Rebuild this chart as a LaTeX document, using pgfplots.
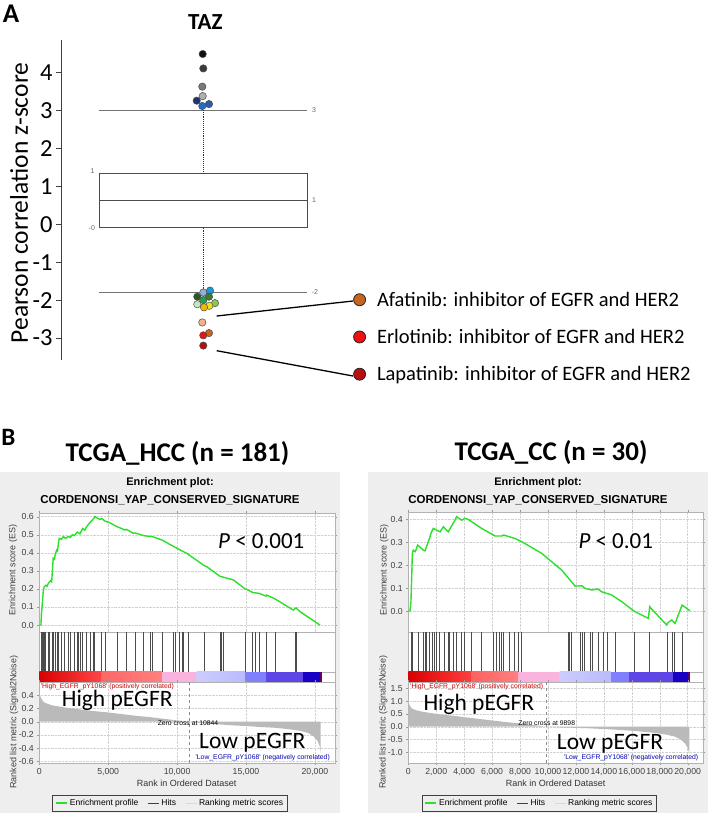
\documentclass[border=0pt]{standalone}
\usepackage{pgfplots}
\pgfplotsset{compat=1.18}
\usepackage{fontspec}
\setmainfont{Carlito}
\newfontfamily\arial{Liberation Sans}
\newcommand\fs[1]{\fontsize{#1}{#1}\selectfont}

\definecolor{panelgray}{HTML}{EEEEEE}
\definecolor{esgreen}{HTML}{2BE02B}
\definecolor{c01}{HTML}{111111}
\definecolor{c02}{HTML}{3A3A3A}
\definecolor{c03}{HTML}{7A7A7A}
\definecolor{c04}{HTML}{B0B0B0}
\definecolor{c05}{HTML}{1E3370}
\definecolor{c06}{HTML}{2F5AA6}
\definecolor{c07}{HTML}{1F6FC8}
\definecolor{c08}{HTML}{8FB0E0}
\definecolor{c09}{HTML}{1A9AD8}
\definecolor{c10}{HTML}{2D5A1E}
\definecolor{c11}{HTML}{3D7A2E}
\definecolor{c12}{HTML}{22A050}
\definecolor{c13}{HTML}{C8E4B8}
\definecolor{c14}{HTML}{8CC850}
\definecolor{c15}{HTML}{F0E020}
\definecolor{c16}{HTML}{F5B800}
\definecolor{c17}{HTML}{F2B28C}
\definecolor{afa}{HTML}{C8641E}
\definecolor{erl}{HTML}{EE1111}
\definecolor{lap}{HTML}{B81010}

% one point of the TAZ plot
\newcommand\zdot[3]{\addplot[only marks, mark=*, mark size=3.7pt,
  mark options={fill=#1, draw=black!70, line width=0.5pt}] coordinates {(#2,#3)};}

\pgfplotsset{
  gsea/.style={scale only axis, anchor=north west, xmin=0,
    axis background/.style={fill=white},
    axis line style={black!30}, tick style={black!40},
    major tick length=2pt, tick align=outside,
    tick label style={font=\arial\fs{8.7}, text=black!75},
    /pgf/number format/assume math mode=true,
    grid style={densely dotted, black!18}},
  hcc/.style={gsea, width=295.7pt, xmax=21460},
  cc/.style={gsea, width=295pt, xmax=21120},
  rlegend/.style={legend columns=3,
    legend style={anchor=north, draw=black!75, line width=1pt, fill=none,
      font=\arial\fs{8.5}, inner sep=2pt,
      /tikz/every even column/.append style={column sep=7pt}},
    legend image code/.code={\draw[##1] (0pt,0pt) -- (11pt,0pt);}},
  onedec/.style={/pgf/number format/.cd, fixed, fixed zerofill, precision=1},
}

\begin{document}
\begin{tikzpicture}
\useasboundingbox (0,0) rectangle (712pt,-813pt);
\begin{scope}[x=1pt,y=-1pt]
\fill[panelgray] (0,471.7) rectangle (340,813);
\fill[panelgray] (368,472) rectangle (708,813);
\end{scope}

%%%%%%%%%%%%%%%% panel A
\begin{axis}[at={(61pt,-40pt)}, anchor=north west, scale only axis,
  width=269pt, height=320pt, xmin=61, xmax=330, ymin=-3.58, ymax=4.86,
  axis x line=none, axis y line=left, clip=false,
  y axis line style={-, black!75, line width=1pt},
  ytick={-3,-2,-1,0,1,2,3,4}, tick align=outside, major tick length=5pt,
  ytick style={black!75, line width=1pt},
  yticklabel style={font=\fs{24.5}},
  /pgf/number format/assume math mode=true,
  legend style={at={(1.0855,0.072)}, anchor=west, draw=none, fill=none,
    font=\fs{20.5}, inner sep=0pt, row sep=11.5pt,
    nodes={inner sep=5pt}},
  legend cell align=left,
  legend image code/.code={\filldraw[#1] (6pt,0pt) circle (6pt); \path (18pt,0pt);}]
\addlegendimage{fill=afa, draw=black!85, line width=0.8pt}
\addlegendentry{Afatinib: inhibitor of EGFR and HER2}
\addlegendimage{fill=erl, draw=black!85, line width=0.8pt}
\addlegendentry{Erlotinib: inhibitor of EGFR and HER2}
\addlegendimage{fill=lap, draw=black!85, line width=0.8pt}
\addlegendentry{Lapatinib: inhibitor of EGFR and HER2}
% box, median, whiskers
\addplot[black!70, line width=1pt] coordinates {(99,-0.09) (307,-0.09) (307,1.34) (99,1.34)} -- cycle;
\addplot[black!70, line width=1pt] coordinates {(99,0.63) (307,0.63)};
\addplot[black!55, line width=1pt] coordinates {(99,3.01) (307,3.01)};
\addplot[black!55, line width=1pt] coordinates {(99,-1.80) (307,-1.80)};
\addplot[black!80, densely dotted, line width=0.9pt] coordinates {(203.3,1.34) (203.3,3.01)};
\addplot[black!80, densely dotted, line width=0.9pt] coordinates {(203.3,-0.09) (203.3,-1.80)};
\node[font=\arial\fs{7}, text=black!60] at (axis cs:92.5,1.40) {1};
\node[font=\arial\fs{7}, text=black!60] at (axis cs:92,-0.09) {-0};
\node[font=\arial\fs{7}, text=black!60] at (axis cs:314,0.63) {1};
\node[font=\arial\fs{7}, text=black!60] at (axis cs:314,3.01) {3};
\node[font=\arial\fs{7}, text=black!60] at (axis cs:315,-1.78) {-2};
% outliers
\zdot{c01}{202.7}{4.49}
\zdot{c02}{203.3}{4.11}
\zdot{c03}{202.3}{3.63}
\zdot{c04}{202.7}{3.38}
\zdot{c05}{196.7}{3.26}
\zdot{c06}{209}{3.17}
\zdot{c07}{202.3}{3.12}
\zdot{c08}{203.3}{-1.80}
\zdot{c09}{210}{-1.75}
\zdot{c10}{197.3}{-1.91}
\zdot{c11}{209}{-1.91}
\zdot{c12}{203.3}{-2.00}
\zdot{c13}{197.3}{-2.11}
\zdot{c14}{215}{-2.08}
\zdot{c15}{209.3}{-2.15}
\zdot{c16}{204}{-2.19}
\zdot{c17}{202.3}{-2.59}
\zdot{afa}{209}{-2.87}
\zdot{erl}{203.3}{-2.93}
\zdot{lap}{203.3}{-3.20}
\end{axis}

%%%%%%%%%%%%%%%% panel B, TCGA_HCC
\begin{axis}[hcc, at={(39.3pt,-512.7pt)}, height=119pt,
  ymin=-0.037, ymax=0.622, ytick={0,0.1,0.2,0.3,0.4,0.5,0.6},
  yticklabel style={onedec},
  xtick={0,5000,10000,15000,20000}, xticklabels={}, grid=major]
\addplot[esgreen, line width=1.4pt] coordinates {
(0,0) (120,0.0) (150,0.06) (200,0.1) (290,0.19) (350,0.21) (480,0.22) (560,0.215)
(650,0.23) (760,0.24) (820,0.245) (900,0.24) (950,0.30) (1010,0.37) (1100,0.365)
(1150,0.39) (1260,0.415) (1320,0.41) (1400,0.46) (1450,0.48) (1600,0.475) (1750,0.49)
(1900,0.48) (2100,0.49) (2250,0.485) (2400,0.50) (2550,0.495) (2750,0.515) (2950,0.505)
(3150,0.535) (3300,0.525) (3440,0.545) (3700,0.57) (3950,0.59) (4040,0.60) (4250,0.59)
(4400,0.585) (4530,0.59) (4770,0.575) (5010,0.57) (5640,0.545) (6220,0.526) (6320,0.53)
(6820,0.508) (6950,0.51) (7580,0.495) (8030,0.49) (8200,0.49) (8930,0.47) (9250,0.456)
(9870,0.43) (10360,0.41) (10700,0.397) (11950,0.33) (12150,0.323) (13110,0.27)
(13350,0.265) (14080,0.25) (14930,0.2) (15050,0.198) (15490,0.18) (15970,0.175)
(16450,0.16) (16500,0.166) (17100,0.145) (17230,0.139) (18430,0.083) (18630,0.095)
(18920,0.074) (20370,0.0)};
\end{axis}
\begin{axis}[hcc, at={(39.3pt,-631.7pt)}, height=40pt, ymin=0, ymax=1, ticks=none]
\addplot[ycomb, black!70, line width=0.8pt] coordinates {
(123,1) (196,1) (269,1) (341,1) (435,1) (653,1) (755,1) (943,1) (1045,1) (1190,1)
(1284,1) (1379,1) (1575,1) (1814,1) (2105,1) (2250,1) (2540,1) (2758,1) (2860,1)
(2975,1) (3150,1) (3440,1) (3701,1) (3948,1) (4020,1) (4528,1) (4768,1) (5639,1)
(6314,1) (6945,1) (7576,1) (8034,1) (8200,1) (8926,1) (9753,1) (9870,1) (10189,1)
(10356,1) (10450,1) (10813,1) (11952,1) (13113,1) (13237,1) (13353,1) (14928,1)
(15487,1) (15650,1) (15966,1) (16452,1) (17105,1) (18560,1) (18629,1)};
\end{axis}
\begin{axis}[hcc, at={(39.3pt,-671.7pt)}, height=10pt, ymin=0, ymax=1, ticks=none]
\shade[left color=red!85!black, right color=red!72!white] (axis cs:0,0) rectangle (axis cs:4530,1);
\shade[left color=red!60!white, right color=red!50!white] (axis cs:4530,0) rectangle (axis cs:8900,1);
\fill[magenta!30!white] (axis cs:8900,0) rectangle (axis cs:11420,1);
\shade[left color=blue!20!white, right color=blue!27!white] (axis cs:11420,0) rectangle (axis cs:14930,1);
\fill[blue!50!white] (axis cs:14930,0) rectangle (axis cs:16450,1);
\fill[blue!70!white!90!red] (axis cs:16450,0) rectangle (axis cs:19160,1);
\fill[blue!85!black!90!red] (axis cs:19160,0) rectangle (axis cs:20370,1);
\fill[violet!80!black] (axis cs:20370,0) rectangle (axis cs:20500,1);
\end{axis}
\begin{axis}[hcc, rlegend, at={(39.3pt,-681.7pt)}, height=81.6pt,
  ymin=-0.63, ymax=0.606, ytick={-0.6,-0.4,-0.2,0,0.2,0.4},
  yticklabel style={onedec},
  xtick={0,5000,10000,15000,20000}, scaled x ticks=false,
  xticklabel style={/pgf/number format/1000 sep={,}}, grid=major,
  legend style={at={(0.442,-0.388)}}]
\addlegendimage{color=esgreen, draw=esgreen, line width=2pt}
\addlegendentry{Enrichment profile}
\addlegendimage{color=black!75, draw=black!75, line width=1pt}
\addlegendentry{Hits}
\addlegendimage{color=black!15, draw=black!15, line width=1pt}
\addlegendentry{Ranking metric scores}
\addplot[fill=black!27, draw=none, forget plot] coordinates {
(0,0) (0,0.43) (60,0.40) (120,0.36) (300,0.30) (600,0.27) (1000,0.245) (2000,0.21)
(3000,0.185) (4000,0.16) (5000,0.14) (6000,0.115) (7000,0.09) (8000,0.07) (9000,0.045)
(10000,0.02) (10844,0) (12000,-0.025) (13000,-0.04) (14000,-0.055) (15000,-0.065)
(16000,-0.08) (17000,-0.09) (18000,-0.11) (19000,-0.14) (19500,-0.17) (19900,-0.22)
(20200,-0.29) (20350,-0.37) (20420,-0.47) (20420,0)} -- cycle;
\addplot[black!45, dashed, forget plot] coordinates {(10844,-0.63) (10844,0.606)};
\end{axis}

%%%%%%%%%%%%%%%% panel B, TCGA_CC
\begin{axis}[cc, at={(408.3pt,-511.7pt)}, height=120.6pt,
  ymin=-0.093, ymax=0.434, ytick={0,0.1,0.2,0.3,0.4},
  yticklabel style={onedec},
  xtick={0,2000,...,20000}, xticklabels={}, grid=major]
\addplot[esgreen, line width=1.4pt] coordinates {
(0,0) (120,0.0) (190,0.04) (290,0.25) (350,0.266) (500,0.26) (670,0.288) (1100,0.265)
(1200,0.263) (1530,0.32) (1620,0.34) (1790,0.361) (2270,0.346) (2510,0.368)
(2860,0.346) (3340,0.397) (3460,0.412) (3820,0.397) (4040,0.405) (4300,0.40)
(5250,0.361) (6210,0.328) (6690,0.328) (6830,0.332) (7640,0.317) (8120,0.303)
(9550,0.252) (10980,0.179) (11940,0.109) (12440,0.11) (12650,0.099) (13130,0.092)
(13580,0.096) (13850,0.084) (14560,0.07) (15280,0.041) (16000,0.007) (16230,-0.003)
(17180,-0.032) (17290,0.019) (17400,0.01) (18500,-0.061) (18600,-0.05) (18860,-0.039)
(19020,-0.05) (19100,-0.054) (19330,-0.017) (19600,0.026) (20170,0.001)};
\end{axis}
\begin{axis}[cc, at={(408.3pt,-632.3pt)}, height=39.4pt, ymin=0, ymax=1, ticks=none]
\addplot[ycomb, black!70, line width=0.8pt] coordinates {
(215,1) (286,1) (695,1) (1103,1) (1196,1) (1289,1) (1532,1) (1718,1) (1890,1) (2005,1)
(2248,1) (2606,1) (2843,1) (2964,1) (3200,1) (3437,1) (3795,1) (4038,1) (4510,1)
(5226,1) (6064,1) (6300,1) (6543,1) (6658,1) (6830,1) (7260,1) (7618,1) (7855,1)
(8091,1) (11435,1) (11556,1) (11671,1) (12344,1) (12437,1) (12580,1) (13060,1)
(13153,1) (13583,1) (13941,1) (14249,1) (14822,1) (16160,1) (17284,1) (18544,1)
(18881,1) (19024,1) (19597,1)};
\end{axis}
\begin{axis}[cc, at={(408.3pt,-671.7pt)}, height=10pt, ymin=0, ymax=1, ticks=none]
\shade[left color=red!85!black, right color=red!75!white] (axis cs:0,0) rectangle (axis cs:4510,1);
\shade[left color=red!62!white, right color=red!50!white] (axis cs:4510,0) rectangle (axis cs:7855,1);
\fill[magenta!30!white] (axis cs:7855,0) rectangle (axis cs:10840,1);
\shade[left color=blue!20!white, right color=blue!27!white] (axis cs:10840,0) rectangle (axis cs:14490,1);
\fill[blue!50!white] (axis cs:14490,0) rectangle (axis cs:15800,1);
\fill[blue!70!white!90!red] (axis cs:15800,0) rectangle (axis cs:18950,1);
\fill[blue!85!black!90!red] (axis cs:18950,0) rectangle (axis cs:20050,1);
\fill[violet!80!black] (axis cs:20050,0) rectangle (axis cs:20150,1);
\end{axis}
\begin{axis}[cc, rlegend, at={(408.3pt,-681.7pt)}, height=81.6pt,
  ymin=-1.43, ymax=1.758, ytick={-1,-0.5,0,0.5,1,1.5},
  yticklabel style={onedec},
  xtick={0,2000,...,20000}, scaled x ticks=false,
  xticklabel style={/pgf/number format/1000 sep={,}}, grid=major,
  legend style={at={(0.4437,-0.388)}}]
\addlegendimage{color=esgreen, draw=esgreen, line width=2pt}
\addlegendentry{Enrichment profile}
\addlegendimage{color=black!75, draw=black!75, line width=1pt}
\addlegendentry{Hits}
\addlegendimage{color=black!15, draw=black!15, line width=1pt}
\addlegendentry{Ranking metric scores}
\addplot[fill=black!27, draw=none, forget plot] coordinates {
(0,0) (0,1.04) (80,0.85) (240,0.72) (500,0.65) (960,0.59) (2000,0.5) (3340,0.42)
(4500,0.34) (5730,0.26) (7000,0.18) (8120,0.12) (9000,0.06) (9898,0) (11000,-0.03)
(12900,-0.06) (14000,-0.09) (15280,-0.13) (16500,-0.18) (17660,-0.24) (18500,-0.31)
(19100,-0.39) (19500,-0.5) (19810,-0.65) (20000,-0.82) (20120,-1.04) (20120,0)} -- cycle;
\addplot[black!45, dashed, forget plot] coordinates {(9898,-1.43) (9898,1.758)};
\end{axis}

%%%%%%%%%%%%%%%% text and connectors
\begin{scope}[x=1pt,y=-1pt]
\node[font=\bfseries\fs{27}, anchor=base] at (11,23) {A};
\node[font=\bfseries\fs{23}, anchor=base] at (205.3,30) {TAZ};
\node[rotate=90, font=\fs{25.5}] at (19,203) {Pearson correlation z-score};
\draw[black, line width=1.3pt] (216.7,316) -- (353,301);
\draw[black, line width=1.3pt] (216.7,350.7) -- (353,376);

\node[font=\bfseries\fs{25}, anchor=base] at (8.5,445) {B};
\node[font=\bfseries\fs{27}, anchor=base] at (177.5,461.7) {TCGA\_HCC (n = 181)};
\node[font=\bfseries\fs{27}, anchor=base] at (551,460.5) {TCGA\_CC (n = 30)};

\node[font=\arial\bfseries\fs{11}, anchor=base] at (170,485.7) {Enrichment plot:};
\node[font=\arial\bfseries\fs{11.5}, anchor=base] at (170,503.3) {CORDENONSI\_YAP\_CONSERVED\_SIGNATURE};
\node[font=\fs{23}, anchor=base west, inner sep=0] at (218,548.3) {\textit{P} < 0.001};
\node[rotate=90, font=\arial\fs{9}, text=black!75] at (13,570) {Enrichment score (ES)};
\node[rotate=90, font=\arial\fs{9}, text=black!75] at (14,722) {Ranked list metric (Signal2Noise)};
\node[font=\arial\fs{9}, text=black!80, anchor=base] at (186.7,786.5) {Rank in Ordered Dataset};
\node[font=\arial\fs{6.8}, text=red!80!black, anchor=base west, inner sep=0] at (40.7,688.5) {\textquotesingle High\_EGFR\_pY1068\textquotesingle{} (positively correlated)};
\node[font=\arial\fs{6.8}, text=blue!70!black, anchor=base east, inner sep=0] at (330,759) {\textquotesingle Low\_EGFR\_pY1068\textquotesingle{} (negatively correlated)};
\node[font=\arial\fs{6.8}, anchor=base, inner sep=0] at (188,725) {Zero cross at 10844};
\node[font=\fs{23.5}, anchor=base west, inner sep=0] at (61.7,706.7) {High pEGFR};
\node[font=\fs{23.5}, anchor=base west, inner sep=0] at (199,748.3) {Low pEGFR};

\node[font=\arial\bfseries\fs{11}, anchor=base] at (538,485.7) {Enrichment plot:};
\node[font=\arial\bfseries\fs{11.5}, anchor=base] at (538,503.3) {CORDENONSI\_YAP\_CONSERVED\_SIGNATURE};
\node[font=\fs{23}, anchor=base west, inner sep=0] at (578.3,548.3) {\textit{P} < 0.01};
\node[rotate=90, font=\arial\fs{9}, text=black!75] at (384.3,570) {Enrichment score (ES)};
\node[rotate=90, font=\arial\fs{9}, text=black!75] at (383.3,722) {Ranked list metric (Signal2Noise)};
\node[font=\arial\fs{9}, text=black!80, anchor=base] at (555.7,786.5) {Rank in Ordered Dataset};
\node[font=\arial\fs{6.8}, text=red!80!black, anchor=base west, inner sep=0] at (410,688.5) {\textquotesingle High\_EGFR\_pY1068\textquotesingle{} (positively correlated)};
\node[font=\arial\fs{6.8}, text=blue!70!black, anchor=base east, inner sep=0] at (698.3,759) {\textquotesingle Low\_EGFR\_pY1068\textquotesingle{} (negatively correlated)};
\node[font=\arial\fs{6.8}, anchor=base, inner sep=0] at (546.7,725) {Zero cross at 9898};
\node[font=\fs{23.5}, anchor=base west, inner sep=0] at (423.3,710) {High pEGFR};
\node[font=\fs{23.5}, anchor=base west, inner sep=0] at (556.7,749.5) {Low pEGFR};
\end{scope}
\end{tikzpicture}
\end{document}
